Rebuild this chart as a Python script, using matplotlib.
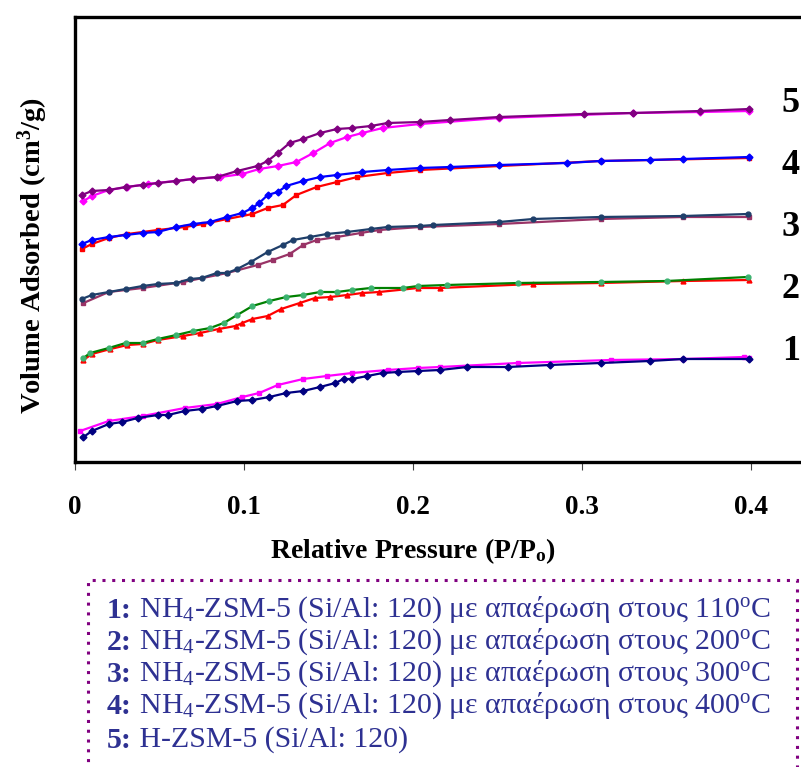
import matplotlib
matplotlib.use("Agg")
import matplotlib.pyplot as plt
from matplotlib.patches import Rectangle

plt.rcParams['font.family'] = ['Liberation Serif', 'DejaVu Serif']
plt.rcParams['mathtext.fontset'] = 'custom'
plt.rcParams['mathtext.rm'] = 'Liberation Serif'
plt.rcParams['mathtext.bf'] = 'Liberation Serif:bold'
plt.rcParams['mathtext.it'] = 'Liberation Serif:italic'
plt.rcParams['mathtext.default'] = 'regular'

# ---- data (relative pressure, volume adsorbed in arbitrary offset units) ----
s1a_x = [0.005, 0.010, 0.020, 0.028, 0.037, 0.049, 0.055, 0.065, 0.075, 0.084, 0.096, 0.105, 0.115,
         0.125, 0.135, 0.145, 0.154, 0.159, 0.164, 0.173, 0.182, 0.191, 0.203, 0.216, 0.232, 0.256,
         0.281, 0.311, 0.340, 0.360, 0.399]
s1a_y = [25, 31, 38, 40, 44, 47, 47, 51, 53, 56, 61, 62, 65, 69, 71, 75, 79, 83, 83, 86, 89, 90, 91,
         92, 95, 95, 97, 99, 101, 103, 103]
s1b_x = [0.003, 0.020, 0.040, 0.065, 0.084, 0.099, 0.109, 0.120, 0.135, 0.149, 0.164, 0.185, 0.203,
         0.216, 0.262, 0.317, 0.360, 0.396, 0.399]
s1b_y = [31, 41, 46, 54, 58, 65, 69, 77, 83, 86, 89, 92, 94, 95, 99, 102, 103, 105, 104]

s2a_x = [0.005, 0.009, 0.020, 0.030, 0.040, 0.049, 0.060, 0.070, 0.080, 0.088, 0.096, 0.105, 0.115,
         0.125, 0.135, 0.145, 0.155, 0.164, 0.175, 0.194, 0.203, 0.220, 0.262, 0.311, 0.350, 0.398]
s2a_y = [104, 109, 114, 119, 119, 123, 127, 131, 134, 139, 147, 156, 161, 165, 167, 170, 170, 172,
         174, 174, 176, 177, 179, 180, 181, 185]
s2b_x = [0.005, 0.010, 0.021, 0.031, 0.040, 0.049, 0.064, 0.074, 0.085, 0.095, 0.099, 0.105, 0.114,
         0.122, 0.133, 0.142, 0.151, 0.161, 0.170, 0.180, 0.203, 0.216, 0.271, 0.311, 0.360, 0.399]
s2b_y = [102, 108, 113, 117, 118, 122, 126, 129, 133, 136, 139, 143, 146, 153, 159, 164, 165, 167,
         169, 170, 174, 174, 178, 179, 181, 182]

s3a_x = [0.004, 0.010, 0.020, 0.030, 0.040, 0.049, 0.060, 0.068, 0.075, 0.084, 0.090, 0.096, 0.104,
         0.114, 0.123, 0.129, 0.139, 0.149, 0.161, 0.175, 0.185, 0.204, 0.212, 0.251, 0.271, 0.311,
         0.360, 0.398]
s3a_y = [163, 167, 170, 173, 176, 178, 179, 183, 184, 189, 189, 193, 200, 210, 217, 222, 225, 228,
         230, 233, 235, 236, 237, 240, 243, 245, 246, 248]
s3b_x = [0.005, 0.020, 0.040, 0.064, 0.090, 0.108, 0.117, 0.127, 0.135, 0.143, 0.155, 0.169, 0.180,
         0.204, 0.251, 0.311, 0.360, 0.399]
s3b_y = [159, 170, 174, 180, 189, 197, 202, 208, 217, 222, 225, 229, 232, 235, 238, 243, 245, 245]

s4a_x = [0.004, 0.010, 0.020, 0.030, 0.040, 0.049, 0.060, 0.070, 0.080, 0.090, 0.099, 0.105, 0.109,
         0.114, 0.120, 0.125, 0.135, 0.145, 0.155, 0.170, 0.185, 0.204, 0.222, 0.251, 0.291, 0.311,
         0.340, 0.360, 0.399]
s4a_y = [218, 222, 225, 227, 229, 230, 235, 238, 240, 245, 249, 254, 259, 267, 270, 276, 281, 285,
         287, 290, 292, 294, 295, 297, 299, 301, 302, 303, 305]
s4b_x = [0.004, 0.010, 0.020, 0.031, 0.049, 0.065, 0.076, 0.090, 0.105, 0.114, 0.123, 0.131, 0.143,
         0.155, 0.167, 0.185, 0.204, 0.311, 0.399]
s4b_y = [213, 218, 224, 228, 232, 235, 238, 243, 248, 254, 257, 267, 275, 280, 285, 289, 292, 301, 304]

s5a_x = [0.004, 0.010, 0.020, 0.030, 0.040, 0.049, 0.060, 0.070, 0.084, 0.096, 0.108, 0.114, 0.120,
         0.127, 0.135, 0.145, 0.155, 0.164, 0.175, 0.185, 0.204, 0.222, 0.251, 0.301, 0.330, 0.370,
         0.399]
s5a_y = [267, 271, 272, 275, 277, 279, 281, 283, 285, 291, 296, 301, 309, 319, 323, 329, 333, 334,
         336, 339, 340, 342, 345, 348, 349, 351, 353]
s5b_x = [0.005, 0.010, 0.020, 0.031, 0.043, 0.070, 0.086, 0.099, 0.109, 0.120, 0.131, 0.141, 0.151,
         0.161, 0.170, 0.182, 0.204, 0.251, 0.330, 0.370, 0.399]
s5b_y = [261, 266, 272, 275, 278, 283, 285, 288, 293, 296, 300, 309, 319, 325, 329, 334, 338, 344,
         349, 350, 351]

curve_labels = ['1', '2', '3', '4', '5']
curve_label_y = [110, 172, 234, 296, 359]
x_ticks = [0, 0.1, 0.2, 0.3, 0.4]
x_ticklabels = ['0', '0.1', '0.2', '0.3', '0.4']

legend_nums = ['1:', '2:', '3:', '4:', '5:']
legend_texts = [
    r'NH$_4$-ZSM-5 (Si/Al: 120) με απαέρωση στους 110$^{o}$C',
    r'NH$_4$-ZSM-5 (Si/Al: 120) με απαέρωση στους 200$^{o}$C',
    r'NH$_4$-ZSM-5 (Si/Al: 120) με απαέρωση στους 300$^{o}$C',
    r'NH$_4$-ZSM-5 (Si/Al: 120) με απαέρωση στους 400$^{o}$C',
    r'H-ZSM-5 (Si/Al: 120)',
]

series = [
    (s1b_x, s1b_y, '#FF00FF', '#FF00FF', 's'),
    (s1a_x, s1a_y, '#000080', '#000080', 'D'),
    (s2b_x, s2b_y, '#FF0000', '#FF0000', '^'),
    (s2a_x, s2a_y, '#008000', '#3CB371', 'o'),
    (s3b_x, s3b_y, '#993366', '#993366', 's'),
    (s3a_x, s3a_y, '#1F3F6A', '#1F3F6A', 'o'),
    (s4b_x, s4b_y, '#FF0000', '#FF0000', 's'),
    (s4a_x, s4a_y, '#0000FF', '#0000FF', 'D'),
    (s5b_x, s5b_y, '#FF00FF', '#FF00FF', 'D'),
    (s5a_x, s5a_y, '#800080', '#800080', 'D'),
]

W, H = 801, 767
fig = plt.figure(figsize=(W / 100, H / 100), dpi=100)
ax = fig.add_axes([75 / W, 1 - 462 / H, (W - 75) / W, 445 / H])
ax.set_xlim(0, (W - 75) / 1690)
ax.set_ylim(0, 445)

for xs, ys, lc, mc, mk in series:
    ax.plot(xs, ys, color=lc, lw=1.6, marker=mk, ms=3.5, mfc=mc, mec=mc, clip_on=False)

for lab, yv in zip(curve_labels, curve_label_y):
    ax.text(0.4235, yv, lab, fontsize=26, fontweight='bold', ha='center', va='center')

for sp in ['left', 'top', 'bottom']:
    ax.spines[sp].set_linewidth(2.4)
    ax.spines[sp].set_color('black')
ax.spines['right'].set_visible(False)

ax.set_xticks(x_ticks)
ax.set_xticklabels(x_ticklabels, fontsize=19.5, fontweight='bold')
ax.tick_params(axis='x', direction='out', length=6, width=0.8, color='#444444', pad=18)
ax.set_yticks([])

ax.set_xlabel(r'Relative Pressure (P/P$_{o}$)', fontsize=20, fontweight='bold')
ax.xaxis.set_label_coords((413 - 75) / (W - 75), (462 - 536) / 445)
ax.set_ylabel(r'Volume Adsorbed (cm$^{3}$/g)', fontsize=20.5, fontweight='bold')
ax.yaxis.set_label_coords((50 - 75) / (W - 75), (462 - 255) / 445)

# legend box
fig.patches.append(Rectangle((88 / W, -0.05), (797 - 88) / W, 1 - 580 / H + 0.05,
                             transform=fig.transFigure, fill=False, edgecolor='#800080',
                             lw=2.2, linestyle=(0, (1, 2.2))))
line_y = [610, 642, 674, 706, 740]
txt_color = '#2E3192'
for num, t, py in zip(legend_nums, legend_texts, line_y):
    t1 = fig.text(107 / W, 1 - py / H, num, fontsize=21.5, fontweight='bold', color=txt_color,
                  ha='left', va='center')
    fig.add_artist(matplotlib.text.Annotation(' ' + t, xy=(1, 0.5), xycoords=t1, fontsize=21.5,
                                              color=txt_color, ha='left', va='center',
                                              annotation_clip=False))

fig.savefig('out.png', dpi=100)
